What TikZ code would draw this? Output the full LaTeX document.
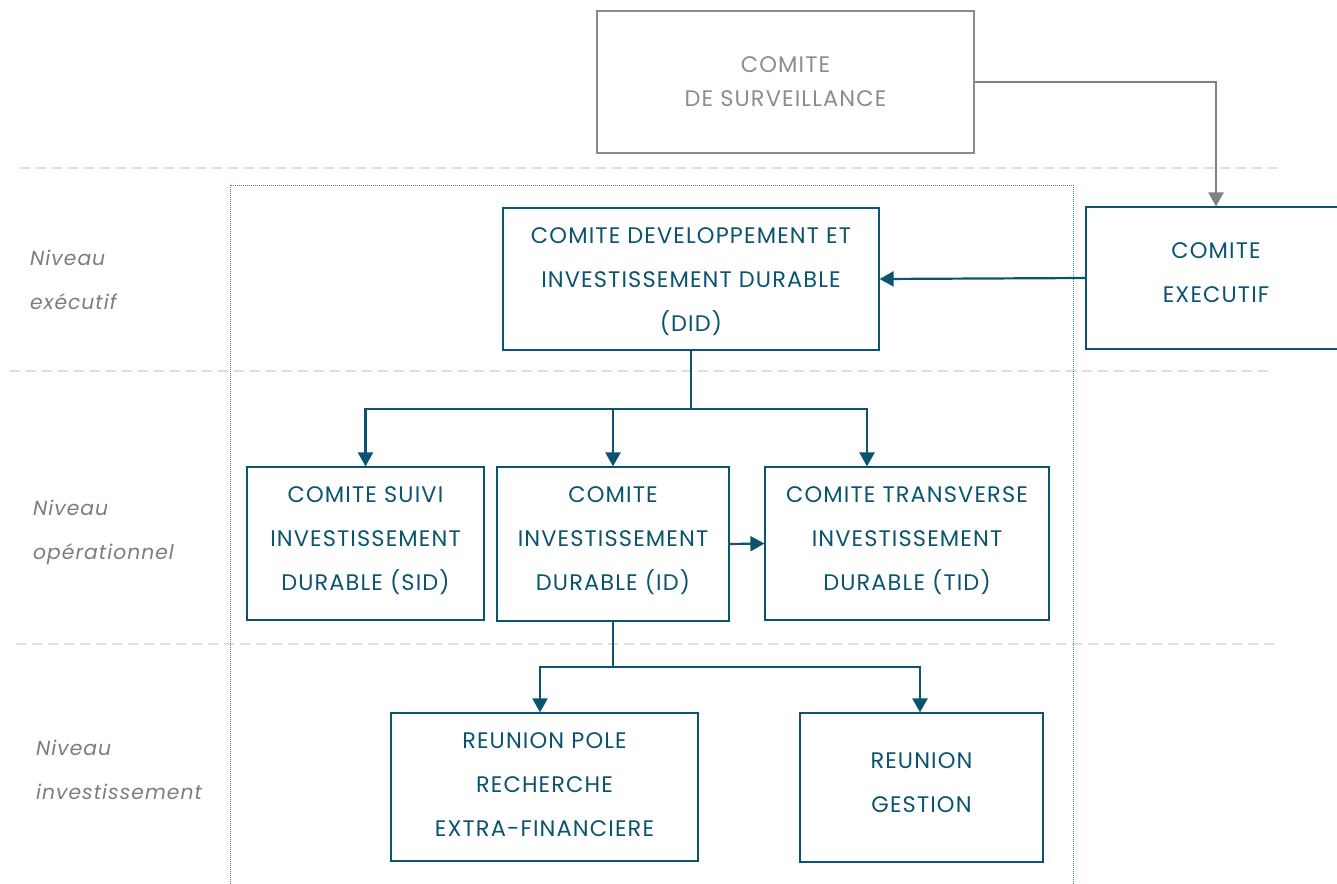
\documentclass[tikz,border=0pt]{standalone}
\usepackage{fontspec}
\setmainfont{Poppins}[LetterSpace=5]
\usepackage{xcolor}
\usetikzlibrary{positioning,arrows.meta}
\definecolor{bleu}{RGB}{11,84,112}
\definecolor{griste}{RGB}{140,140,140}
\definecolor{grisfl}{RGB}{128,128,128}
\definecolor{grisni}{RGB}{125,125,125}
\definecolor{tirets}{RGB}{222,222,222}
\definecolor{cadre}{RGB}{60,140,170}
\newcommand{\haut}[1]{\rule{0pt}{#1}}
\tikzset{
  boite/.style={draw=bleu,text=bleu,line width=1.2pt,align=center,inner sep=0pt,
    font=\fontsize{22.5}{44}\selectfont},
  boitegris/.style={boite,draw=griste,text=griste,font=\fontsize{22.5}{34}\selectfont},
  monte/.style={execute at end node={\rule[-#1]{0pt}{0pt}}},
  niveau/.style={anchor=west,align=left,text=grisni,inner sep=0pt,
    font=\fontsize{20.3}{44}\selectfont\itshape},
  separ/.style={draw=tirets,line width=1.5pt,dash pattern=on 10pt off 6pt},
  lien/.style={draw=bleu,line width=2.2pt},
  fleche/.style={lien,-{Triangle[width=15pt,length=14pt]}},
  flechegris/.style={draw=grisfl,line width=2.2pt,-{Triangle[width=15pt,length=14pt]}}
}
\begin{document}
\begin{tikzpicture}[x=1pt,y=-1pt]
        \useasboundingbox (0,0) rectangle (1337,883);
        \draw[separ] (20,168) -- (1277,168);
        \draw[separ] (10,371) -- (1268,371);
        \draw[separ] (16,644) -- (1275,644);
        \draw[cadre,line width=1pt,densely dotted] (230,890) -- (230,185) -- (1073,185) -- (1073,890);
        \node[niveau] (nexec) at (30,280) {Niveau\\exécutif};
        \node[niveau] (nop) at (33,532) {Niveau\\opérationnel};
        \node[niveau] (ninv) at (36,770) {Niveau\\investissement};
        \node[boitegris,minimum width=377pt,minimum height=142pt] (surv) at (785.5,82) {COMITE\\DE SURVEILLANCE};
        \node[boite,minimum width=376pt,minimum height=142pt] (did) at (691,279) {\haut{22pt}COMITE DEVELOPPEMENT ET\\INVESTISSEMENT DURABLE\\(DID)};
        \node[boite,monte=10pt,minimum width=260pt,minimum height=142pt] (exec) at (1216,278) {COMITE\\EXECUTIF};
        \node[boite,monte=9pt,minimum width=237pt,minimum height=153pt] (sid) at (365.5,543.5) {COMITE SUIVI\\INVESTISSEMENT\\DURABLE (SID)};
        \node[boite,monte=10pt,minimum width=232pt,minimum height=154pt] (id) at (613,544) {COMITE\\INVESTISSEMENT\\DURABLE (ID)};
        \node[boite,monte=9pt,minimum width=284pt,minimum height=153pt] (tid) at (907,543.5) {COMITE TRANSVERSE\\INVESTISSEMENT\\DURABLE (TID)};
        \node[boite,monte=4pt,minimum width=307pt,minimum height=148pt] (pole) at (544.5,787) {REUNION POLE\\RECHERCHE\\EXTRA-FINANCIERE};
        \node[boite,monte=10pt,minimum width=243pt,minimum height=149pt] (gestion) at (921.5,787.5) {REUNION\\GESTION};
        \coordinate (fourche) at (691,409);
        \coordinate (fourchebas) at (613,667);
        \draw[flechegris] (surv.east) -| (exec.north);
        \draw[fleche] (exec.west) -- (did.east);
        \draw[lien] (did.south) -- (fourche);
        \draw[fleche] (fourche) -| (sid.north);
        \draw[fleche] (fourche) -| (id.north);
        \draw[fleche] (fourche) -| ([xshift=-40pt]tid.north);
        \draw[fleche] (id.east) -- (tid.west);
        \draw[lien] (id.south) -- (fourchebas);
        \draw[fleche] (fourchebas) -| ([xshift=-4.5pt]pole.north);
        \draw[fleche] (fourchebas) -| ([xshift=-1.5pt]gestion.north);
\end{tikzpicture}
\end{document}
